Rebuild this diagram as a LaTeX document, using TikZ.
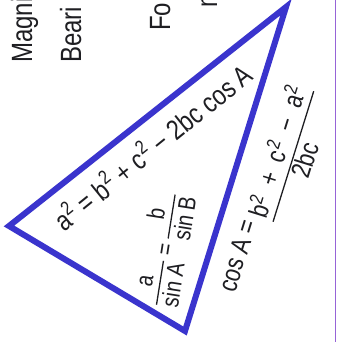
\documentclass[tikz,border=0pt]{standalone}
\usepackage{graphicx}
\usepackage{fontspec}
\setmainfont{Liberation Sans}
\definecolor{ink}{RGB}{30,30,34}
\definecolor{triblue}{RGB}{58,52,205}
\definecolor{marginpurple}{RGB}{150,100,215}
\setlength{\arrayrulewidth}{1.3pt}
\newcommand{\tall}[1]{\scalebox{1}[1.22]{#1}}
\newcommand{\sq}{\textsuperscript{2}}
\newcommand{\gap}{\hspace{0.55em}}
\begin{document}
\begin{tikzpicture}[x=1pt,y=-1pt,
  hand/.style={text=ink, inner sep=0pt, font=\fontsize{22}{24}\selectfont},
  edge/.style={draw=triblue, line width=6pt, line join=miter},
  margin/.style={draw=marginpurple, line width=1.8pt},
  toptext/.style={text=ink, inner sep=0pt, rotate=90, anchor=base west, font=\fontsize{24}{26}\selectfont}]
\fill[white] (0,0) rectangle (340,342);
\useasboundingbox (0,0) rectangle (340,342);
\clip (0,0) rectangle (340,342);
% partial words along the top
\node[toptext] (w1) at (32,63) {\tall{Magni}};
\node[toptext] (w2) at (81,63) {\tall{Beari}};
\node[toptext] (w3) at (170,31) {\tall{Fo}};
\node[toptext] (w4) at (217,8) {\tall{m}};
% margin line
\coordinate (M1) at (335.5,-2);
\coordinate (M2) at (335.5,344);
\draw[margin] (M1) -- (M2);
% triangle
\coordinate (L) at (9,226);
\coordinate (T) at (286,7);
\coordinate (B) at (185,331);
\draw[edge] (L) -- (T) -- (B) -- cycle;
% formulas
\node[hand, rotate=39, font=\fontsize{23}{25}\selectfont] (lawcos) at (152,146)
  {\tall{a\sq{} = b\sq{} + c\sq{} − 2bc cos A}};
\node[hand, rotate=72.7, anchor=base west] (cosA) at (235,294)
  {\tall{cos A =} \raisebox{-8pt}{\begin{tabular}[t]{@{}c@{}}\tall{b\sq\gap+\gap c\sq\gap−\gap a\sq}\\[-1pt]\hline\rule{0pt}{21pt}\tall{2bc}\end{tabular}}};
\node[hand, rotate=81, font=\fontsize{20}{22}\selectfont] (sines) at (168,250)
  {\begin{tabular}{@{}c@{}}\tall{a}\\\hline\rule{0pt}{21pt}\tall{sin A}\end{tabular} \tall{=} \begin{tabular}{@{}c@{}}\tall{b}\\\hline\rule{0pt}{21pt}\tall{sin B}\end{tabular}};
\end{tikzpicture}
\end{document}
